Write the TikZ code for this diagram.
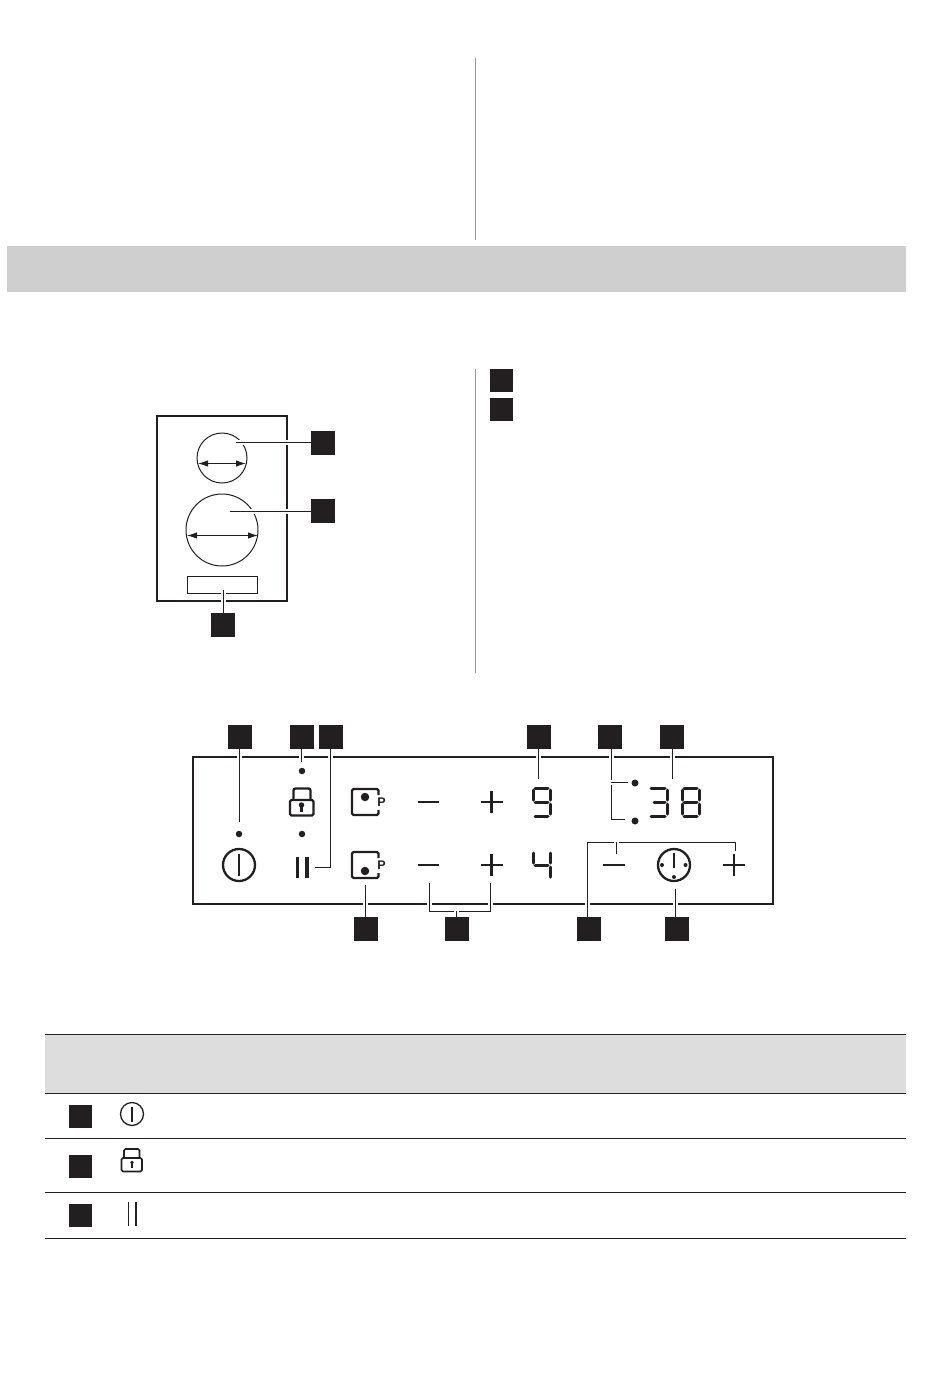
\documentclass[tikz,border=0pt]{standalone}
\usepackage{xcolor}
\usepackage{fontspec}
\setsansfont{Liberation Sans}
\usetikzlibrary{positioning, arrows.meta}
\definecolor{badgecolor}{RGB}{35, 31, 32}
\definecolor{bandcolor}{RGB}{207, 207, 207}
\definecolor{headcolor}{RGB}{221, 221, 221}
\definecolor{splitcolor}{RGB}{150, 150, 150}

\begin{document}
\begin{tikzpicture}[
    x=1pt, y=-1pt,
    badge/.style={fill=badgecolor, minimum size=24pt, inner sep=0pt, text centered},
    rowbadge/.style={badge, minimum size=23pt},
    frameline/.style={draw=badgecolor, line width=2pt},
    leader/.style={draw=badgecolor, line width=1pt, preaction={draw=white, line width=5pt}},
    split/.style={draw=splitcolor, line width=1pt},
    rule/.style={draw=badgecolor, line width=1pt},
    span/.style={rule, {Latex[length=10pt,width=6.5pt,fill=badgecolor]}-{Latex[length=10pt,width=6.5pt,fill=badgecolor]}},
    spot/.style={fill=badgecolor, circle, inner sep=0pt, minimum size=#1},
    symbol/.style={draw=badgecolor, line width=2.3pt},
    segment/.style={draw=badgecolor, line width=3pt, line cap=round},
    letter/.style={inner sep=0pt, text=badgecolor, font=\sffamily\bfseries\fontsize{12.5}{12.5}\selectfont}
]
\useasboundingbox (0,0) rectangle (950,1374);

% Bands and splits
\fill[bandcolor] (7,246) rectangle (906,292);
\draw[split] (475.5,58) -- (475.5,240);
\draw[split] (475.5,369) -- (475.5,673);

% Hob
\draw[frameline] (157,416) rectangle (287,601);
\draw[rule] (222,458) circle (25);
\draw[rule] (222,530) circle (36);
\draw[rule] (187,576) rectangle (257,593);
\coordinate (smallzone) at (236,442.5);
\coordinate (largezone) at (230,511);
\coordinate (hobstrip) at (223,590);
\coordinate (smallleft) at (198,463.5);
\coordinate (smallright) at (246,463.5);
\coordinate (largeleft) at (187,535.5);
\coordinate (largeright) at (258,535.5);
\draw[span] (smallleft) -- (smallright);
\draw[span] (largeleft) -- (largeright);

\node[badge] (hoba) at (323,442.5) {};
\node[badge] (hobb) at (323,511) {};
\node[badge] (hobc) at (223,625) {};
\node[rowbadge] (lista) at (501,380) {};
\node[rowbadge] (listb) at (501,409) {};

\draw[leader] (hoba.west) -- (smallzone);
\draw[leader] (hobb.west) -- (largezone);
\draw[leader] (hobc.north) -- (hobstrip);

% Panel
\draw[frameline] (193,757) rectangle (773,904);

\node[badge] (onoff) at (239.5,737) {};
\node[badge] (lockkey) at (301.5,737) {};
\node[badge] (pausekey) at (331,737) {};
\node[badge] (heatshow) at (539,737) {};
\node[badge] (timerlamp) at (610,737) {};
\node[badge] (timershow) at (672,737) {};
\node[badge] (boostkey) at (365.5,929) {};
\node[badge] (heatkeys) at (456.5,929) {};
\node[badge] (timerkeys) at (589,929) {};
\node[badge] (clockkey) at (676.5,929) {};

\coordinate (onoffend) at (239.5,822);
\coordinate (lockend) at (301.5,762);
\coordinate (pausebend) at (330.5,867);
\coordinate (pauseend) at (315,867);
\coordinate (heatend) at (538.5,779);
\coordinate (lampup) at (611,782);
\coordinate (lampupend) at (628,782);
\coordinate (lampdown) at (611,819.5);
\coordinate (lampdownend) at (625,819.5);
\coordinate (timerend) at (672,779);
\coordinate (boostend) at (365.5,885);
\coordinate (minusend) at (429,883);
\coordinate (plusend) at (490.5,883);
\coordinate (heatbar) at (456.5,911);
\coordinate (timertop) at (587.5,842);
\coordinate (timerplus) at (735,851);
\coordinate (timerminus) at (616.5,854);
\coordinate (clockend) at (675.5,889);

\draw[leader] (onoff.south) -- (onoffend);
\draw[leader] (lockkey.south) -- (lockend);
\draw[leader] (pausekey.south -| pausebend) -- (pausebend) -- (pauseend);
\draw[leader] (heatshow.south -| heatend) -- (heatend);
\draw[leader] (timerlamp.south -| lampup) -- (lampdown) -- (lampdownend);
\draw[leader] (lampup) -- (lampupend);
\draw[leader] (timershow.south) -- (timerend);
\draw[leader] (boostkey.north) -- (boostend);
\draw[leader] (minusend) -- (minusend |- heatbar) -- (plusend |- heatbar) -- (plusend);
\draw[leader] (heatkeys.north) -- (heatbar);
\draw[leader] (timerkeys.north -| timertop) -- (timertop) -- (timerplus |- timertop) -- (timerplus);
\draw[leader] (timerminus) -- (timerminus |- timertop);
\draw[leader] (clockkey.north -| clockend) -- (clockend);

% Lamps
\node[spot=6.5pt] (onofflamp) at (239,834) {};
\node[spot=6.5pt] (locklamp) at (302,771) {};
\node[spot=6.5pt] (pauselamp) at (302,834) {};
\node[spot=7pt] (timerlampa) at (635,783) {};
\node[spot=7pt] (timerlampb) at (635,821) {};

% Keys
\draw[symbol] (239,865) circle (16);
\draw[symbol] (239,853.5) -- (239,875.5);
\draw[symbol, rounded corners=2pt] (293.5,800) |- (310.5,788.5) -- (310.5,800);
\draw[symbol, rounded corners=1.5pt] (290,800) rectangle (313.5,815.5);
\node[spot=5.5pt] (lockhole) at (301.5,805) {};
\draw[symbol] (301.5,805) -- (301.5,811.5);
\draw[symbol, line width=3.6pt] (297.5,857) -- (297.5,878);
\draw[symbol, line width=3.6pt] (307,857) -- (307,878);

\draw[symbol, rounded corners=1.5pt] (378.5,795) -- (378.5,789) -- (352,789) -- (352,815) -- (378.5,815) -- (378.5,810);
\node[spot=8.5pt] (boosttop) at (365,797) {};
\node[letter] (boostp) at (381.5,802.5) {P};
\draw[symbol, rounded corners=1.5pt] (378.5,858) -- (378.5,852) -- (352,852) -- (352,878) -- (378.5,878) -- (378.5,873);
\node[spot=8.5pt] (boostlow) at (365,871) {};
\node[letter] (boostq) at (381.5,865) {P};

\foreach \yline in {802,865} {
    \draw[symbol] (418,\yline) -- (439,\yline);
    \draw[symbol] (481,\yline) -- (503,\yline);
    \draw[symbol] (491.5,\yline-11) -- (491.5,\yline+11);
}
\draw[symbol] (603,865) -- (625,865);
\draw[symbol] (723,865) -- (745,865);
\draw[symbol] (734,854) -- (734,876);

\draw[symbol] (674,865) circle (16);
\draw[symbol] (674,852.5) -- (674,868);
\node[spot=4pt] (clockleft) at (662,865) {};
\node[spot=4pt] (clockright) at (685.5,865) {};
\node[spot=4pt] (clockdown) at (674,877) {};

% Display
\foreach \xa/\ya/\xb/\yb in {3/1/16/1,1/3/1/13,18/3/18/13,3/15/16/15,18/17/18/27,3/29/16/29}
    \draw[segment] (532+\xa,787+\ya) -- (532+\xb,787+\yb);
\foreach \xa/\ya/\xb/\yb in {1/3/1/13,18/3/18/13,3/15/16/15,18/17/18/27}
    \draw[segment] (532+\xa,850+\ya) -- (532+\xb,850+\yb);
\foreach \xa/\ya/\xb/\yb in {1/1/15/1,17/3/17/13,4/15/15/15,17/17/17/27,1/29/15/29}
    \draw[segment] (650+\xa,787+\ya) -- (650+\xb,787+\yb);
\foreach \xa/\ya/\xb/\yb in {3/1/16/1,1/3/1/13,18/3/18/13,3/15/16/15,1/17/1/27,18/17/18/27,3/29/16/29}
    \draw[segment] (681+\xa,787+\ya) -- (681+\xb,787+\yb);

% Table
\fill[headcolor] (45,1034) rectangle (906,1093);
\foreach \yline in {1034,1093,1138,1192,1238}
    \draw[rule] (45,\yline) -- (906,\yline);

\node[rowbadge] (rowa) at (80.5,1116.5) {};
\node[rowbadge] (rowb) at (80.5,1166.5) {};
\node[rowbadge] (rowc) at (80.5,1215.5) {};

\draw[rule, line width=1.3pt] (132,1114) circle (11.5);
\draw[rule, line width=1.3pt] (132,1106.5) -- (132,1121.5);
\draw[rule, line width=1.6pt, rounded corners=1.5pt] (124,1158) |- (139.5,1149) -- (139.5,1158);
\draw[rule, line width=1.6pt, rounded corners=1.5pt] (121.5,1158) rectangle (142,1171.5);
\node[spot=3.8pt] (rowhole) at (132,1162.5) {};
\draw[rule, line width=1.4pt] (132,1162.5) -- (132,1167.5);
\draw[rule, line width=1.2pt] (128.5,1202) -- (128.5,1226);
\draw[rule, line width=1.2pt] (136,1202) -- (136,1226);

\end{tikzpicture}
\end{document}
